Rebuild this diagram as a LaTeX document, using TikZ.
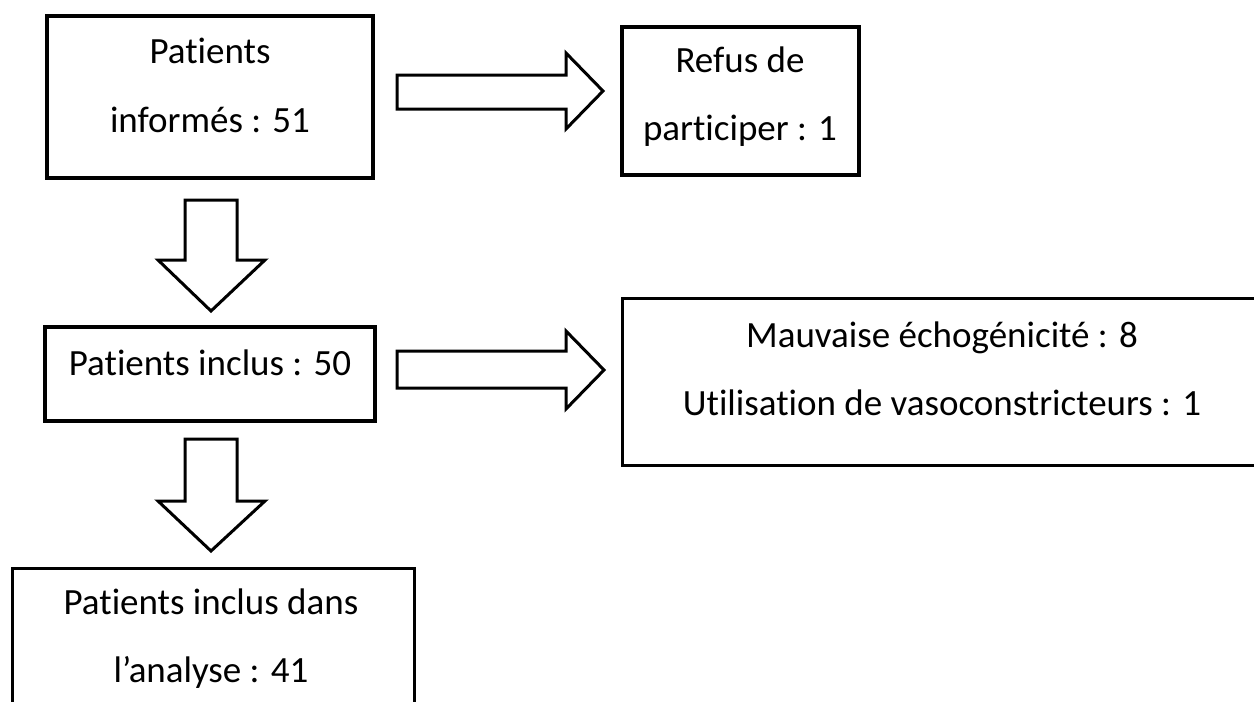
\documentclass[tikz,border=0pt]{standalone}
\usepackage{fontspec}
\setmainfont{Carlito}[Ligatures={NoCommon}]
\begin{document}
\begin{tikzpicture}[x=0.5pt,y=-0.5pt,
  box/.style={draw=black,line width=1.6pt,rectangle,inner sep=0pt,fill=white},
  lbl/.style={anchor=base,inner sep=0pt,font=\fontsize{18.5pt}{22pt}\selectfont},
  blockarrow/.style={draw=black,line width=1.5pt,fill=white,line join=miter}]
\useasboundingbox (0,0) rectangle (1254,702);
\begin{scope}
\clip (0,0) rectangle (1254,702);
% boxes
\node[box,minimum width=163pt,minimum height=81pt] (b1) at (210,97) {};
\node[box,minimum width=118.5pt,minimum height=74pt] (b2) at (740.5,101) {};
\node[box,minimum width=165pt,minimum height=47pt] (b3) at (210,374) {};
\node[box,minimum width=321pt,minimum height=83.5pt,anchor=north west] (b4) at (621,297) {};
\node[box,minimum width=201pt,minimum height=100pt,anchor=north west] (b5) at (11,567) {};
\end{scope}
% texts
\node[lbl] (t1a) at (210,63) {Patients};
\node[lbl] (t1b) at (210,132) {informés : 51};
\node[lbl] (t2a) at (740,72) {Refus de};
\node[lbl] (t2b) at (740,140) {participer : 1};
\node[lbl] (t3) at (210,375) {Patients inclus : 50};
\node[lbl] (t4a) at (942,347) {Mauvaise échogénicité : 8};
\node[lbl] (t4b) at (942,415) {Utilisation de vasoconstricteurs : 1};
\node[lbl] (t5a) at (211,614) {Patients inclus dans};
\node[lbl] (t5b) at (211,682) {l’analyse : 41};
% block arrows: right
\draw[blockarrow] (397,75) -- (566,75) -- (566,53) -- (603,91) -- (566,129) -- (566,109) -- (397,109) -- cycle;
\draw[blockarrow] (397,351) -- (566,351) -- (566,331) -- (604,370) -- (566,409) -- (566,388) -- (397,388) -- cycle;
% block arrows: down
\draw[blockarrow] (185,200) -- (237,200) -- (237,260) -- (265,260) -- (211,311) -- (158,260) -- (185,260) -- cycle;
\draw[blockarrow] (185,439) -- (237,439) -- (237,501) -- (265,501) -- (211,551) -- (158,501) -- (185,501) -- cycle;
\end{tikzpicture}
\end{document}
